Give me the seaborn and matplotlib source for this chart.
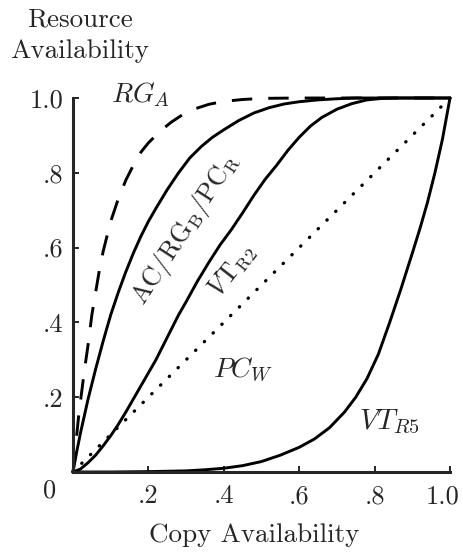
import numpy as np
import matplotlib
matplotlib.use('Agg')
import matplotlib.pyplot as plt
import matplotlib.transforms as mtransforms
import seaborn as sns

# curves (copy availability -> resource availability)
rga_x = [0, 0.005, 0.01, 0.015, 0.02, 0.03, 0.04, 0.05, 0.06, 0.07, 0.08, 0.09, 0.10, 0.12, 0.14,
         0.16, 0.18, 0.20, 0.23, 0.26, 0.29, 0.32, 0.36, 0.40, 0.45, 0.5, 0.6, 1.0]
rga_y = [0, 0.05, 0.10, 0.15, 0.19, 0.27, 0.34, 0.42, 0.48, 0.54, 0.59, 0.63, 0.67, 0.73, 0.78,
         0.82, 0.855, 0.88, 0.91, 0.935, 0.955, 0.97, 0.983, 0.991, 0.996, 0.999, 1.0, 1.0]

ac_x = [0, 0.01, 0.02, 0.03, 0.04, 0.05, 0.06, 0.08, 0.10, 0.12, 0.14, 0.16, 0.18, 0.20, 0.22,
        0.25, 0.28, 0.31, 0.34, 0.37, 0.40, 0.44, 0.48, 0.52, 0.56, 0.60, 0.65, 0.70, 0.75, 1.0]
ac_y = [0, 0.055, 0.105, 0.15, 0.195, 0.235, 0.275, 0.35, 0.42, 0.48, 0.535, 0.585, 0.63, 0.67, 0.705,
        0.755, 0.80, 0.84, 0.87, 0.895, 0.915, 0.94, 0.96, 0.974, 0.984, 0.99, 0.995, 0.998, 1.0, 1.0]

vt2_x = [0, 0.02, 0.04, 0.06, 0.08, 0.10, 0.12, 0.14, 0.16, 0.18, 0.20, 0.22, 0.24, 0.26, 0.28, 0.30,
         0.33, 0.36, 0.39, 0.42, 0.45, 0.48, 0.51, 0.54, 0.57, 0.60, 0.63, 0.66, 0.70, 0.74, 0.78,
         0.82, 0.86, 1.0]
vt2_y = [0, 0.008, 0.025, 0.045, 0.07, 0.097, 0.127, 0.16, 0.195, 0.23, 0.265, 0.30, 0.34, 0.38, 0.42, 0.455,
         0.51, 0.56, 0.607, 0.648, 0.693, 0.74, 0.783, 0.82, 0.86, 0.895, 0.925, 0.948, 0.97, 0.985, 0.995,
         0.999, 1.0, 1.0]

vt5_x = [0, 0.1, 0.2, 0.3, 0.35, 0.4, 0.45, 0.5, 0.55, 0.6, 0.64, 0.68, 0.72, 0.75, 0.78, 0.81,
         0.84, 0.87, 0.90, 0.92, 0.94, 0.96, 0.98, 1.0]
vt5_y = [0, 0.0, 0.001, 0.003, 0.006, 0.01, 0.017, 0.028, 0.045, 0.066, 0.088, 0.118, 0.16, 0.2, 0.25, 0.315,
         0.40, 0.49, 0.585, 0.65, 0.72, 0.80, 0.89, 1.0]

pcw_x = [0, 1.0]
pcw_y = [0, 1.0]

ticks = [0, 0.2, 0.4, 0.6, 0.8, 1.0]
tick_labels = ['', '.2', '.4', '.6', '.8', '1.0']

sns.set_style('ticks')
plt.rcParams['font.family'] = ['cmr10', 'DejaVu Serif']
plt.rcParams['mathtext.fontset'] = 'cm'
plt.rcParams['axes.formatter.use_mathtext'] = True

fig = plt.figure(figsize=(4.63, 5.55), dpi=100)
ax = fig.add_axes([73 / 463, 1 - 472 / 555, 377 / 463, 374 / 555])

lw = 2.1
sns.lineplot(x=rga_x, y=rga_y, ax=ax, color='black', lw=lw, linestyle=(0, (7, 5.5)), clip_on=False)
sns.lineplot(x=ac_x, y=ac_y, ax=ax, color='black', lw=lw, clip_on=False)
sns.lineplot(x=vt2_x, y=vt2_y, ax=ax, color='black', lw=lw, clip_on=False)
sns.lineplot(x=vt5_x, y=vt5_y, ax=ax, color='black', lw=lw, clip_on=False)
sns.lineplot(x=pcw_x, y=pcw_y, ax=ax, color='black', lw=2.4, linestyle=(0, (0.1, 3.6)), clip_on=False)
ax.lines[-1].set_dash_capstyle('round')

ax.set_xlim(0, 1)
ax.set_ylim(0, 1)
sns.despine(ax=ax)
for s in ['left', 'bottom']:
    ax.spines[s].set_linewidth(2.2)

ax.set_xticks(ticks)
ax.set_xticklabels(tick_labels)
ax.set_yticks(ticks)
ax.set_yticklabels(tick_labels)
ax.tick_params(direction='in', length=4, width=1.4, labelsize=19, pad=7)
ax.tick_params(axis='x', pad=9)
# last x label sits a little left of its tick
shift = mtransforms.ScaledTranslation(-7 / 100, 0, fig.dpi_scale_trans)
last = ax.get_xticklabels()[-1]
last.set_transform(last.get_transform() + shift)
ax.text(-0.061, -0.051, '0', transform=ax.transAxes, ha='center', va='center', fontsize=19)

# curve labels
ax.text(0.178, 1.008, r'$RG_A$', ha='center', va='center', fontsize=20)
ax.text(0.30, 0.65, r'AC/RG$_{\mathrm{B}}$/PC$_{\mathrm{R}}$', ha='center', va='center',
        fontsize=19, rotation=57, rotation_mode='anchor')
ax.text(0.42, 0.54, r'$V\mathrm{T}_{\mathrm{R2}}$', ha='center', va='center',
        fontsize=19, rotation=52, rotation_mode='anchor')
ax.text(0.45, 0.273, r'$PC_W$', ha='center', va='center', fontsize=20)
ax.text(0.84, 0.134, r'$VT_{R5}$', ha='center', va='center', fontsize=21)

fig.text(80 / 463, 1 - 20 / 555, 'Resource', ha='center', va='center', fontsize=19.5)
fig.text(80 / 463, 1 - 51 / 555, 'Availability', ha='center', va='center', fontsize=19.5)
fig.text(254 / 463, 1 - 535 / 555, 'Copy Availability', ha='center', va='center', fontsize=19.5)

fig.savefig('out.png', dpi=100)
